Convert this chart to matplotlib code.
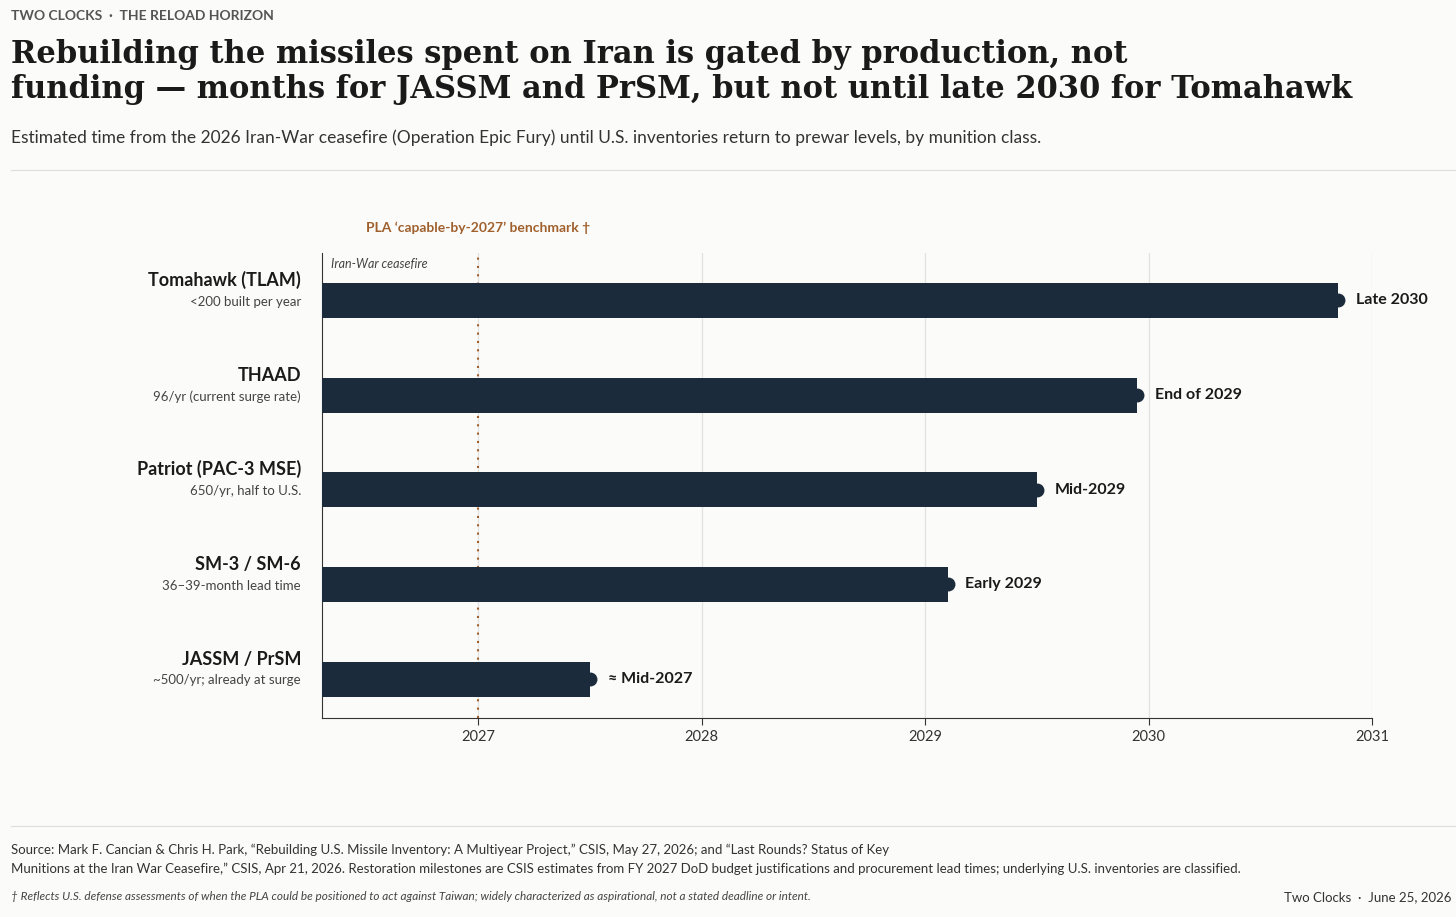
import matplotlib
matplotlib.use("Agg")
import matplotlib.pyplot as plt

names = ["Tomahawk (TLAM)", "THAAD", "Patriot (PAC-3 MSE)", "SM-3 / SM-6", "JASSM / PrSM"]
subs = ["<200 built per year", "96/yr (current surge rate)", "650/yr, half to U.S.",
        "36–39-month lead time", "~500/yr; already at surge"]
ends = [2030.85, 2029.95, 2029.50, 2029.10, 2027.50]
end_labels = ["Late 2030", "End of 2029", "Mid-2029", "Early 2029", "≈ Mid-2027"]
start = 2026.30
benchmark = 2027.0
ticks = [2027, 2028, 2029, 2030, 2031]

plt.rcParams['font.family'] = ['Lato', 'DejaVu Sans']
bg = "#fbfbf9"
navy = "#1c2b3b"
brown = "#a0602d"
fig = plt.figure(figsize=(14.56, 9.17), dpi=100, facecolor=bg)
ax = fig.add_axes([322/1456, 1-718/917, (1372-322)/1456, (718-253)/917], facecolor=bg)

ys = list(range(len(names)))[::-1]
for y, e, lab in zip(ys, ends, end_labels):
    ax.barh(y, e - start, left=start, height=0.37, color=navy, zorder=3)
    ax.plot(e, y, 'o', color=navy, ms=9, zorder=4)
    ax.text(e + 0.08, y, lab, va='center', ha='left', fontsize=11.5, fontweight='bold', color="#1a1a1a")
ax.set_xlim(start, 2031)
ax.set_ylim(-0.41, 4.5)
ax.set_xticks(ticks)
ax.set_xticklabels([str(t) for t in ticks], fontsize=10.5, color="#333")
ax.set_yticks([])
ax.grid(axis='x', color="#e2e2e2", lw=0.9, zorder=0)
for s in ['top', 'right']:
    ax.spines[s].set_visible(False)
ax.spines['left'].set_color("#333")
ax.spines['bottom'].set_color("#333")
ax.tick_params(axis='x', length=5, color="#333")
ax.axvline(benchmark, color=brown, ls=(0, (1, 3)), lw=1.5, zorder=2)
ax.text(start + 0.04, 4.38, "Iran-War ceasefire", fontsize=9, style='italic', color="#444", va='center')
ax.text(benchmark, 4.7, "PLA ‘capable-by-2027’ benchmark †", fontsize=10, fontweight='bold',
        color=brown, ha='center', va='bottom', clip_on=False)
for y, n, s in zip(ys, names, subs):
    ax.text(-0.02, y + 0.12, n, transform=ax.get_yaxis_transform(), ha='right', va='bottom',
            fontsize=13, fontweight='bold', color="#1a1a1a")
    ax.text(-0.02, y + 0.05, s, transform=ax.get_yaxis_transform(), ha='right', va='top',
            fontsize=9.5, color="#444")

fig.text(11/1456, 1-16/917, "TWO CLOCKS  ·  THE RELOAD HORIZON", fontsize=10, fontweight='bold',
         color="#555", va='center')
fig.text(11/1456, 1-72/917, "Rebuilding the missiles spent on Iran is gated by production, not\n"
         "funding — months for JASSM and PrSM, but not until late 2030 for Tomahawk",
         family=['DejaVu Serif'], fontsize=22, fontweight='bold', color="#1a1a1a", va='center',
         linespacing=1.2)
fig.text(11/1456, 1-138/917, "Estimated time from the 2026 Iran-War ceasefire (Operation Epic Fury) until "
         "U.S. inventories return to prewar levels, by munition class.", fontsize=12.5, color="#333",
         va='center')
fig.add_artist(plt.Line2D([11/1456, 1], [1-170/917]*2, color="#ddd", lw=0.8))
fig.add_artist(plt.Line2D([11/1456, 1], [1-826/917]*2, color="#ddd", lw=0.8))
fig.text(11/1456, 1-859/917, "Source: Mark F. Cancian & Chris H. Park, “Rebuilding U.S. Missile Inventory: "
         "A Multiyear Project,” CSIS, May 27, 2026; and “Last Rounds? Status of Key\nMunitions at the Iran "
         "War Ceasefire,” CSIS, Apr 21, 2026. Restoration milestones are CSIS estimates from FY 2027 DoD "
         "budget justifications and procurement lead times; underlying U.S. inventories are classified.",
         fontsize=9.5, color="#333", va='center', linespacing=1.6)
fig.text(11/1456, 1-897/917, "† Reflects U.S. defense assessments of when the PLA could be positioned to act "
         "against Taiwan; widely characterized as aspirational, not a stated deadline or intent.",
         fontsize=8.5, style='italic', color="#444", va='center')
fig.text(1452/1456, 1-897/917, "Two Clocks  ·  June 25, 2026", fontsize=9.5, color="#333",
         ha='right', va='center')
fig.savefig("out.png", dpi=100, facecolor=bg)
